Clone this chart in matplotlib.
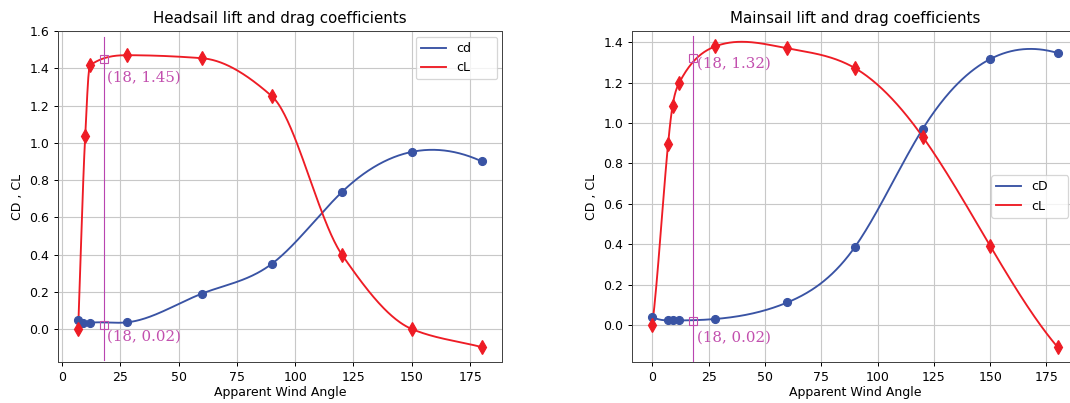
import numpy as np
from matplotlib import pyplot as plt

# headsail data
head_cd_x = [7, 9, 12, 28, 60, 90, 120, 150, 180]
head_cd_y = [0.048, 0.034, 0.034, 0.036, 0.19, 0.35, 0.735, 0.951, 0.90]
head_cl_x = [7, 10, 12, 28, 60, 90, 120, 150, 180]
head_cl_y = [0.0, 1.035, 1.415, 1.47, 1.454, 1.25, 0.40, 0.0, -0.097]

# mainsail data
main_cd_x = [0, 7, 9, 12, 28, 60, 90, 120, 150, 180]
main_cd_y = [0.041, 0.023, 0.023, 0.023, 0.03, 0.112, 0.387, 0.97, 1.317, 1.347]
main_cl_x = [0, 7, 9, 12, 28, 60, 90, 120, 150, 180]
main_cl_y = [0.0, 0.895, 1.085, 1.20, 1.38, 1.37, 1.272, 0.933, 0.392, -0.11]

# marked angle and the values read there
mark_x = 18
head_mark = [1.45, 0.02]
main_mark = [1.32, 0.02]

BLUE = '#3953a4'
RED = '#ee1c25'
PINK = '#c24fae'
LINE_PINK = '#b945b0'


def hermite(x, y, d, n=400):
    xs = np.linspace(x[0], x[-1], n)
    j = np.clip(np.searchsorted(x, xs) - 1, 0, len(x) - 2)
    h = x[j + 1] - x[j]
    s = (xs - x[j]) / h
    ys = (2 * s ** 3 - 3 * s ** 2 + 1) * y[j] + (s ** 3 - 2 * s ** 2 + s) * h * d[j] \
        + (-2 * s ** 3 + 3 * s ** 2) * y[j + 1] + (s ** 3 - s ** 2) * h * d[j + 1]
    return xs, ys


def spline(x, y):
    # not-a-knot cubic spline through the points
    x = np.asarray(x, float)
    y = np.asarray(y, float)
    k = len(x)
    h = np.diff(x)
    m = np.diff(y) / h
    A = np.zeros((k, k))
    b = np.zeros(k)
    A[0, 0], A[0, 1], A[0, 2] = h[1], -(h[0] + h[1]), h[0]
    A[-1, -3], A[-1, -2], A[-1, -1] = h[-1], -(h[-2] + h[-1]), h[-2]
    for i in range(1, k - 1):
        A[i, i - 1] = h[i - 1]
        A[i, i] = 2 * (h[i - 1] + h[i])
        A[i, i + 1] = h[i]
        b[i] = 6 * (m[i] - m[i - 1])
    M = np.linalg.solve(A, b)
    # slopes at the knots from second derivatives
    d = np.empty(k)
    d[:-1] = m - h * (2 * M[:-1] + M[1:]) / 6
    d[-1] = m[-1] + h[-1] * (M[-2] + 2 * M[-1]) / 6
    return hermite(x, y, d)


def pchip(x, y):
    # shape preserving cubic, end slopes taken from the end segments
    x = np.asarray(x, float)
    y = np.asarray(y, float)
    h = np.diff(x)
    m = np.diff(y) / h
    k = len(x)
    d = np.zeros(k)
    for i in range(1, k - 1):
        if m[i - 1] * m[i] > 0:
            w1 = 2 * h[i] + h[i - 1]
            w2 = h[i] + 2 * h[i - 1]
            d[i] = (w1 + w2) / (w1 / m[i - 1] + w2 / m[i])
    d[0], d[-1] = m[0], m[-1]
    return hermite(x, y, d)


def draw(ax, cd, cl, cl_curve, marks, title, cd_label, leg_box, ylim, vspan, offsets):
    ax.plot(*spline(*cd), color=BLUE, lw=1.5, label=cd_label)
    ax.plot(*cl_curve(*cl), color=RED, lw=1.5, label='cL')
    ax.plot(cd[0], cd[1], 'o', color=BLUE, ms=6.3)
    ax.plot(cl[0], cl[1], 'd', color=RED, ms=8)
    ax.axvline(mark_x, ymin=vspan[0], ymax=vspan[1], color=LINE_PINK, lw=0.9)
    for val, off in zip(marks, offsets):
        ax.plot(mark_x, val, 's', mfc='none', mec=PINK, ms=7, mew=0.9)
        ax.annotate(f'({mark_x}, {val:.2f})', (mark_x, val), xytext=off,
                    textcoords='offset points', color=PINK, fontsize=12,
                    family='DejaVu Serif', va='center', ha='left')
    ax.set_ylim(*ylim)
    ax.grid(True, color='#c8c8c8', lw=0.9)
    ax.set_axisbelow(True)
    ax.set_title(title, fontsize=12, pad=6)
    ax.set_xlabel('Apparent Wind Angle', fontsize=10, labelpad=2)
    ax.set_ylabel('CD , CL', fontsize=10, labelpad=4)
    ax.tick_params(labelsize=10)
    ax.legend(loc=leg_box[0], bbox_to_anchor=leg_box[1], mode='expand',
              borderaxespad=0, fontsize=10)
    for s in ax.spines.values():
        s.set_color('#444444')


fig = plt.figure(figsize=(1070 / 90, 403 / 90), dpi=90)
ax1 = fig.add_axes([58 / 1070, 41 / 403, 444 / 1070, 331 / 403])
ax2 = fig.add_axes([632 / 1070, 41 / 403, 446 / 1070, 331 / 403])

draw(ax1, (head_cd_x, head_cd_y), (head_cl_x, head_cl_y), pchip, head_mark,
     'Headsail lift and drag coefficients', 'cd',
     ('upper right', (0.806, 0.858, 0.183, 0.124)),
     (-0.177, 1.60), (0.006, 0.982), [(2.4, -15.2), (2.4, -8.8)])
draw(ax2, (main_cd_x, main_cd_y), (main_cl_x, main_cl_y), spline, main_mark,
     'Mainsail lift and drag coefficients', 'cD',
     ('center right', (0.805, 0.4, 0.173, 0.2)),
     (-0.183, 1.456), (0.0, 0.985), [(3.2, -4), (3.2, -13.6)])

fig.savefig('out.png', dpi=90)
